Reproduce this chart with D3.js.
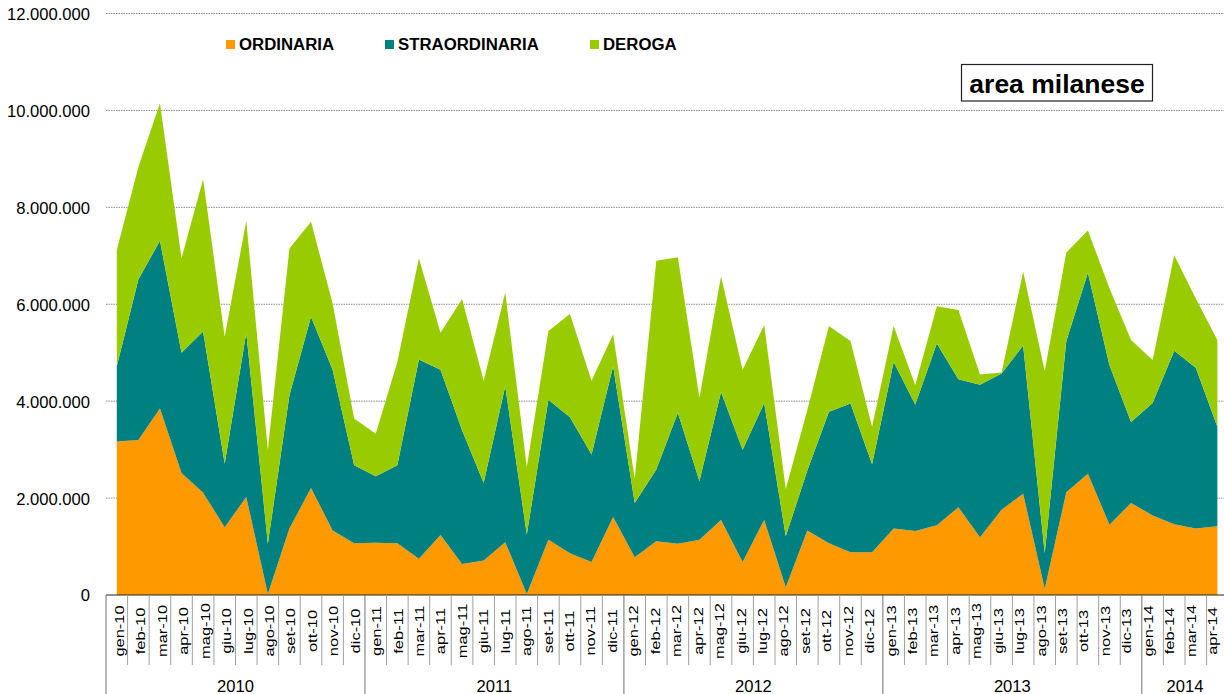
<!DOCTYPE html>
<html>
<head>
<meta charset="utf-8">
<script src="https://cdn.jsdelivr.net/npm/d3@7"></script>
<style>
  html, body { margin: 0; padding: 0; background: #fff; }
  svg { display: block; font-family: "Liberation Sans", Arial, sans-serif; }
</style>
</head>
<body>
<svg id="chart" width="1224" height="694"></svg>
<script>
const months = ["gen-10","feb-10","mar-10","apr-10","mag-10","giu-10","lug-10","ago-10","set-10","ott-10","nov-10","dic-10",
  "gen-11","feb-11","mar-11","apr-11","mag-11","giu-11","lug-11","ago-11","set-11","ott-11","nov-11","dic-11",
  "gen-12","feb-12","mar-12","apr-12","mag-12","giu-12","lug-12","ago-12","set-12","ott-12","nov-12","dic-12",
  "gen-13","feb-13","mar-13","apr-13","mag-13","giu-13","lug-13","ago-13","set-13","ott-13","nov-13","dic-13",
  "gen-14","feb-14","mar-14","apr-14"];

const ordinaria = [3170000,3200000,3850000,2520000,2110000,1400000,2020000,20000,1370000,2210000,1330000,1070000,
  1080000,1070000,750000,1240000,640000,710000,1090000,20000,1140000,860000,680000,1610000,
  780000,1110000,1060000,1140000,1550000,680000,1550000,160000,1330000,1070000,880000,880000,
  1370000,1320000,1440000,1810000,1190000,1760000,2090000,130000,2120000,2500000,1450000,1900000,
  1640000,1460000,1370000,1420000];

const straordinaria = [1550000,3310000,3460000,2480000,3330000,1310000,3390000,1040000,2750000,3530000,3320000,1610000,
  1370000,1610000,4110000,3410000,2760000,1600000,3220000,1230000,2890000,2810000,2220000,3110000,
  1120000,1480000,2700000,1210000,2640000,2320000,2410000,1050000,1240000,2710000,3070000,1820000,
  3440000,2610000,3750000,2640000,3150000,2810000,3060000,730000,3120000,4150000,3290000,1670000,
  2320000,3580000,3320000,2050000];

const deroga = [2400000,2320000,2840000,1950000,3140000,2620000,2310000,1930000,3030000,1960000,1370000,960000,
  880000,2130000,2090000,760000,2710000,2110000,1930000,1390000,1420000,2130000,1520000,660000,
  500000,4310000,3210000,1720000,2390000,1650000,1610000,980000,1250000,1770000,1290000,770000,
  740000,400000,770000,1430000,210000,20000,1520000,3760000,1830000,870000,1590000,1690000,
  890000,1970000,1430000,1790000];

const years = ["2010","2011","2012","2013","2014"];
const seriesNames = ["ORDINARIA","STRAORDINARIA","DEROGA"];
const yTicks = [0,2000000,4000000,6000000,8000000,10000000,12000000];
const titleText = "area milanese";

const colors = {ORDINARIA:"#FF9900", STRAORDINARIA:"#008080", DEROGA:"#99CC00"};

const svg = d3.select("#chart");
const left = 106, step = 21.58;
const x = d3.scaleBand().domain(months).range([left, left + step*months.length]).padding(0);
const y = d3.scaleLinear().domain([0, 12000000]).range([595, 13.5]);
const cx = m => x(m) + x.bandwidth()/2;
// label baselines (rotated text) sit on a slightly tighter spacing than the ticks
const xLabel = d3.scalePoint().domain(months).range([124, 1217]);

const table = months.map((m,i) => ({month:m, ORDINARIA:ordinaria[i], STRAORDINARIA:straordinaria[i], DEROGA:deroga[i]}));
const stacked = d3.stack().keys(seriesNames)(table);

// gridlines
svg.append("g").selectAll("line").data(yTicks.filter(v => v > 0)).join("line")
  .attr("x1", left).attr("x2", 1224)
  .attr("y1", d => y(d)).attr("y2", d => y(d))
  .attr("stroke", "#8a8a8a").attr("stroke-width", 1).attr("stroke-dasharray", "1.5,1");

// areas
const area = d3.area()
  .x(d => cx(d.data.month))
  .y0(d => y(d[0]))
  .y1(d => y(d[1]));
svg.append("g").selectAll("path").data(stacked).join("path")
  .attr("d", area)
  .attr("fill", d => colors[d.key]);

// y axis labels
const loc = d3.formatLocale({decimal:",", thousands:".", grouping:[3], currency:["€",""]});
const fmt = loc.format(",.0f");
const yAxis = d3.axisLeft(y).tickValues(yTicks).tickFormat(fmt).tickSize(0).tickPadding(16);
const yg = svg.append("g").attr("transform", `translate(${left},0)`).call(yAxis);
yg.select(".domain").remove();
yg.selectAll("text").attr("font-size", 16.6).attr("fill", "#000")
  .attr("font-family", "'Liberation Sans', Arial, sans-serif").attr("dy", "0.36em");

// x axis line
svg.append("line").attr("x1", left).attr("x2", 1224).attr("y1", 595).attr("y2", 595)
  .attr("stroke", "#222").attr("stroke-width", 1.2);

// month ticks (band boundaries)
const bounds = months.map(m => x(m)).concat([x.range()[1]]);
svg.append("g").selectAll("line").data(bounds.filter((b,i) => i % 12 !== 0)).join("line")
  .attr("x1", d => d).attr("x2", d => d).attr("y1", 595).attr("y2", 665)
  .attr("stroke", "#a0a0a0").attr("stroke-width", 1);

// year separators
const yearStarts = years.map((yr,i) => x(months[i*12]));
yearStarts.push(x.range()[1]);
svg.append("g").selectAll("line").data(yearStarts).join("line")
  .attr("x1", d => d).attr("x2", d => d).attr("y1", 595).attr("y2", 694)
  .attr("stroke", "#707070").attr("stroke-width", 1);

// month labels
svg.append("g").selectAll("text").data(months).join("text")
  .attr("transform", d => `translate(${xLabel(d)},631) rotate(-90) scale(1.22,1)`)
  .attr("text-anchor", "middle")
  .attr("font-size", 13.5)
  .attr("fill", "#000")
  .text(d => d);

// year labels
svg.append("g").selectAll("text").data(years).join("text")
  .attr("x", (d,i) => (yearStarts[i] + yearStarts[i+1]) / 2)
  .attr("y", 691.5)
  .attr("text-anchor", "middle")
  .attr("font-size", 16.6)
  .attr("fill", "#000")
  .text(d => d);

// legend
const legendX = [226, 385, 590];
const lg = svg.append("g").selectAll("g").data(seriesNames).join("g")
  .attr("transform", (d,i) => `translate(${legendX[i]},0)`);
lg.append("rect").attr("x", 0).attr("y", 40).attr("width", 9).attr("height", 9)
  .attr("fill", d => colors[d]);
lg.append("text").attr("x", 13).attr("y", 50)
  .attr("font-size", 16.8).attr("font-weight", "bold").attr("fill", "#000")
  .text(d => d);

// title box
svg.append("rect").attr("x", 961.5).attr("y", 64.5).attr("width", 191).attr("height", 36.5)
  .attr("fill", "#fff").attr("stroke", "#222").attr("stroke-width", 1.2);
svg.append("text").attr("x", 1057).attr("y", 93.3).attr("text-anchor", "middle")
  .attr("font-size", 26.5).attr("font-weight", "bold").attr("fill", "#000")
  .text(titleText);
</script>
</body>
</html>
